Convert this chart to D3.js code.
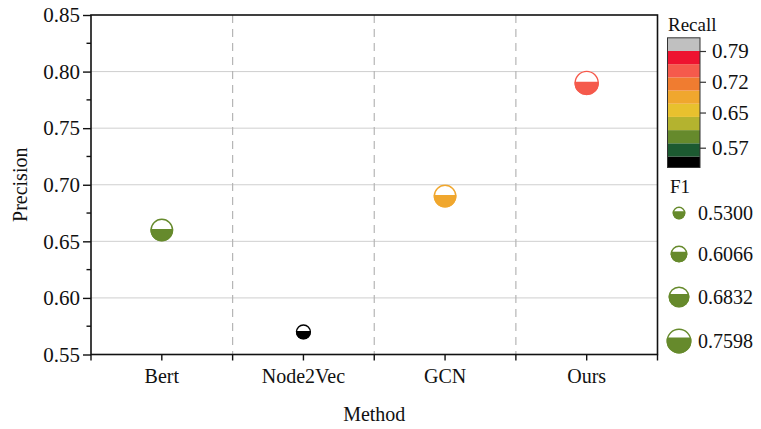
<!DOCTYPE html>
<html>
<head>
<meta charset="utf-8">
<script src="https://cdn.jsdelivr.net/npm/d3@7"></script>
<style>
  html, body { margin: 0; padding: 0; background: #fff; }
  svg { display: block; }
  svg text { font-family: "Times New Roman", "Liberation Serif", Times, "DejaVu Serif", serif !important; fill: #111; }
</style>
</head>
<body>
<svg id="chart" width="761" height="429"></svg>
<script>
// ---------- data ----------
const categories = ["Bert", "Node2Vec", "GCN", "Ours"];
const precision  = [0.66, 0.57, 0.69, 0.79];
const recall     = [0.60, 0.54, 0.69, 0.75];
const f1         = [0.72, 0.575, 0.72, 0.75];

const yTicks = [0.55, 0.60, 0.65, 0.70, 0.75, 0.80, 0.85];
const gridTicks = [0.60, 0.65, 0.70, 0.75, 0.80];

const recallThresholds = [0.55, 0.58, 0.61, 0.64, 0.67, 0.70, 0.73, 0.76, 0.79];
const recallColors = ["#000000", "#1c5a31", "#668a2c", "#b4b32f", "#e8c12e",
                      "#f0a72e", "#f07c30", "#f55a4c", "#ee1330", "#c0c0c0"];
const recallTicks = [0.57, 0.65, 0.72, 0.79];
const recallBarExtent = [0.525, 0.82];

const f1LegendValues = ["0.5300", "0.6066", "0.6832", "0.7598"];
const f1LegendColor = "#668a2c";

// ---------- layout ----------
const SERIF = '"Times New Roman", "Liberation Serif", Times, serif';
const svg = d3.select("#chart");
const L = 91, R = 657.5, T = 15, B = 354.5;

const x = d3.scaleBand().domain(categories).range([L, R]).padding(0);
const y = d3.scaleLinear().domain([0.55, 0.85]).range([B, T]);
const color = d3.scaleThreshold().domain(recallThresholds).range(recallColors);
const size = d3.scaleLinear().domain([0.53, 0.7598]).range([6.3, 12.4]);

// grid
svg.append("g").selectAll("line").data(gridTicks).join("line")
  .attr("x1", L).attr("x2", R)
  .attr("y1", d => y(d)).attr("y2", d => y(d))
  .attr("stroke", "#cfcfcf").attr("stroke-width", 1);

// dashed separators
const seps = categories.slice(1).map(c => x(c));
svg.append("g").selectAll("line").data(seps).join("line")
  .attr("x1", d => d).attr("x2", d => d)
  .attr("y1", T).attr("y2", B)
  .attr("stroke", "#b5b5b5").attr("stroke-width", 1.2)
  .attr("stroke-dasharray", "8,6");

// axes
const yAxis = d3.axisLeft(y).tickValues(yTicks).tickFormat(d3.format(".2f")).tickSize(8).tickPadding(3);
const gy = svg.append("g").attr("transform", `translate(${L},0)`).call(yAxis).attr("font-family", SERIF);
gy.select(".domain").remove();
gy.selectAll(".tick line").attr("stroke", "#111").attr("stroke-width", 1.4);
gy.selectAll("text").style("font-size", "21px");

// minor y ticks
const minorY = d3.range(0.575, 0.85, 0.05);
svg.append("g").selectAll("line").data(minorY).join("line")
  .attr("x1", L - 4.5).attr("x2", L)
  .attr("y1", d => y(d)).attr("y2", d => y(d))
  .attr("stroke", "#111").attr("stroke-width", 1.4);

const xAxis = d3.axisBottom(x).tickSize(6).tickPadding(8);
const gx = svg.append("g").attr("transform", `translate(0,${B})`).call(xAxis).attr("font-family", SERIF);
gx.select(".domain").remove();
gx.selectAll(".tick line").attr("stroke", "#111").attr("stroke-width", 1.4);
gx.selectAll("text").style("font-size", "20px");

// boundary ticks on x
svg.append("g").selectAll("line").data([L, ...seps, R]).join("line")
  .attr("x1", d => d).attr("x2", d => d)
  .attr("y1", B).attr("y2", B + 6)
  .attr("stroke", "#111").attr("stroke-width", 1.4);

// frame
svg.append("rect").attr("x", L).attr("y", T).attr("width", R - L).attr("height", B - T)
  .attr("fill", "none").attr("stroke", "#111").attr("stroke-width", 1.6);

// axis titles
svg.append("text").attr("x", (L + R) / 2).attr("y", 421).attr("text-anchor", "middle")
  .style("font-size", "20px").text("Method");
svg.append("text").attr("transform", `translate(27,${(T + B) / 2}) rotate(-90)`)
  .attr("text-anchor", "middle").style("font-size", "20px").text("Precision");

// half-filled markers
const defs = svg.append("defs");
function halfCircle(g, r, col, id, frac) {
  defs.append("clipPath").attr("id", id).append("rect")
    .attr("x", -r - 2).attr("y", r - 2 * r * frac)
    .attr("width", 2 * r + 4).attr("height", 2 * r * frac + 2);
  g.append("circle").attr("r", r).attr("fill", "#fff");
  g.append("circle").attr("r", r).attr("fill", col).attr("clip-path", `url(#${id})`);
  g.append("circle").attr("r", r - 0.6).attr("fill", "none").attr("stroke", col).attr("stroke-width", 1.4);
}

categories.forEach((c, i) => {
  const g = svg.append("g")
    .attr("transform", `translate(${x(c) + x.bandwidth() / 2},${y(precision[i])})`);
  halfCircle(g, size(f1[i]), color(recall[i]), "clip" + i, 0.55);
});

// ---------- Recall colour bar ----------
const cbX = 667.5, cbW = 32.5;
const cb = d3.scaleLinear().domain([0.79, 0.57]).range([51, 147.7]);
svg.append("text").attr("x", 668).attr("y", 31).style("font-size", "19px").text("Recall");
const edges = [recallBarExtent[0], ...recallThresholds, recallBarExtent[1]];
const segs = d3.range(recallColors.length).map(i => ({ lo: edges[i], hi: edges[i + 1], c: recallColors[i] }));
svg.append("g").selectAll("rect").data(segs).join("rect")
  .attr("x", cbX).attr("width", cbW)
  .attr("y", d => cb(d.hi)).attr("height", d => cb(d.lo) - cb(d.hi))
  .attr("fill", d => d.c);
svg.append("rect").attr("x", cbX).attr("y", cb(recallBarExtent[1])).attr("width", cbW)
  .attr("height", cb(recallBarExtent[0]) - cb(recallBarExtent[1]))
  .attr("fill", "none").attr("stroke", "#333").attr("stroke-width", 1);
const cbAxis = d3.axisRight(cb).tickValues(recallTicks).tickFormat(d3.format(".2f")).tickSize(6).tickPadding(6);
const gcb = svg.append("g").attr("transform", `translate(${cbX + cbW},0)`).call(cbAxis).attr("font-family", SERIF);
gcb.select(".domain").remove();
gcb.selectAll(".tick line").attr("stroke", "#333").attr("stroke-width", 1.2);
gcb.selectAll("text").style("font-size", "21px");

// ---------- F1 legend ----------
svg.append("text").attr("x", 670).attr("y", 193).style("font-size", "19px").text("F1");
const legY = [213, 254, 297, 341];
f1LegendValues.forEach((v, i) => {
  const g = svg.append("g").attr("transform", `translate(679,${legY[i]})`);
  halfCircle(g, size(+v), f1LegendColor, "lclip" + i, 0.64);
  svg.append("text").attr("x", 698).attr("y", legY[i]).attr("dy", "0.35em")
    .style("font-size", "20px").text(v);
});
</script>
</body>
</html>
